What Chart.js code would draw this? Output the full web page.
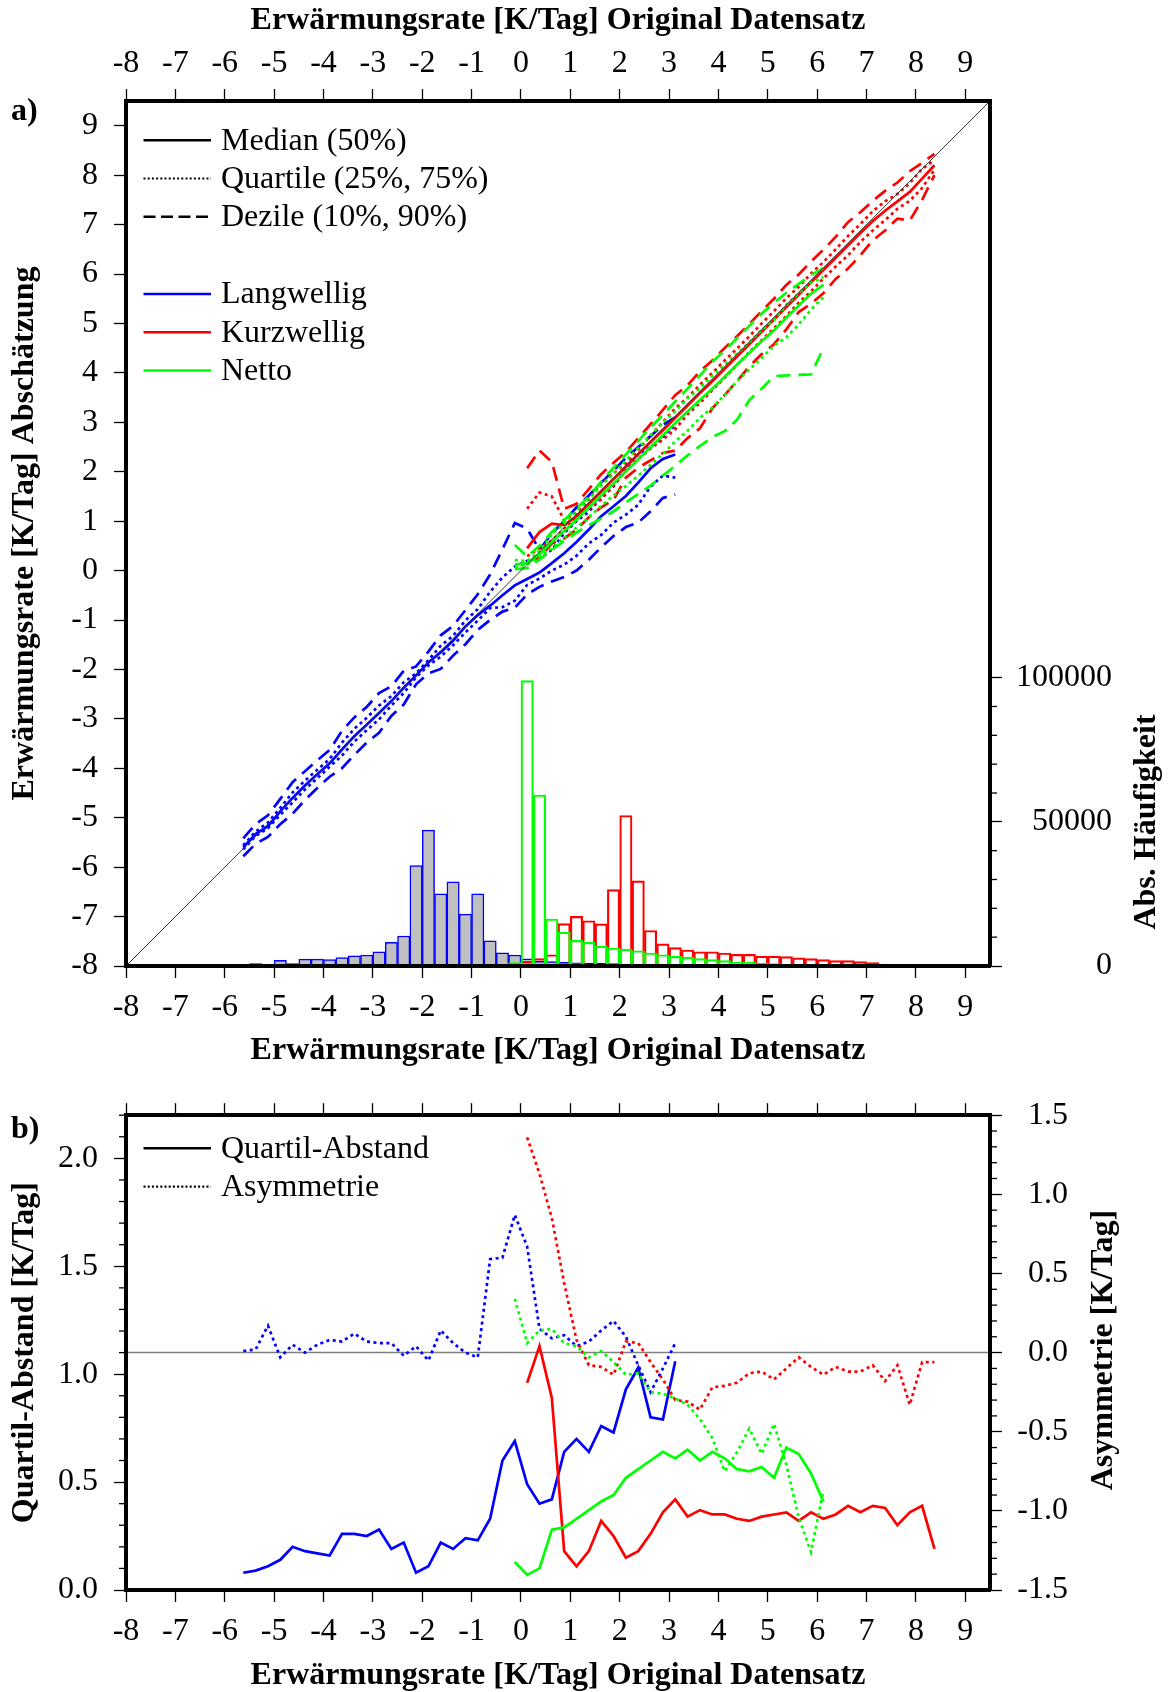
<!DOCTYPE html>
<html><head><meta charset="utf-8">
<script src="https://cdn.jsdelivr.net/npm/chart.js@4.4.0/dist/chart.umd.min.js"></script>
<style>
html,body{margin:0;padding:0;background:#fff;}
#wrap{position:relative;width:1168px;height:1692px;overflow:hidden;}
#cA{position:absolute;left:0;top:0;width:1168px;height:1080px;}
#cB{position:absolute;left:0;top:1080px;width:1168px;height:612px;}
</style></head><body>
<div id="wrap"><canvas id="cA" width="1168" height="1080"></canvas><canvas id="cB" width="1168" height="612"></canvas></div>
<script>
// ---------------- DATA ----------------
const xTicks = [-8,-7,-6,-5,-4,-3,-2,-1,0,1,2,3,4,5,6,7,8,9];

// bin centres (0.25 K/Tag bins)
const xBlue = [-5.625,-5.375,-5.125,-4.875,-4.625,-4.375,-4.125,-3.875,-3.625,-3.375,-3.125,-2.875,-2.625,-2.375,-2.125,-1.875,-1.625,-1.375,-1.125,-0.875,-0.625,-0.375,-0.125,0.125,0.375,0.625,0.875,1.125,1.375,1.625,1.875,2.125,2.375,2.625,2.875,3.125];
const xRed = [0.125,0.375,0.625,0.875,1.125,1.375,1.625,1.875,2.125,2.375,2.625,2.875,3.125,3.375,3.625,3.875,4.125,4.375,4.625,4.875,5.125,5.375,5.625,5.875,6.125,6.375,6.625,6.875,7.125,7.375,7.625,7.875,8.125,8.375];
const xGreen = [-0.125,0.125,0.375,0.625,0.875,1.125,1.375,1.625,1.875,2.125,2.375,2.625,2.875,3.125,3.375,3.625,3.875,4.125,4.375,4.625,4.875,5.125,5.375,5.625,5.875,6.125];

// Panel a: Langwellig (blue)
const blueMed = [-5.60,-5.33,-5.17,-4.87,-4.60,-4.35,-4.12,-3.90,-3.62,-3.35,-3.12,-2.88,-2.64,-2.37,-2.12,-1.86,-1.65,-1.42,-1.13,-0.90,-0.71,-0.50,-0.30,-0.17,-0.04,0.15,0.35,0.58,0.83,1.10,1.30,1.51,1.78,2.07,2.26,2.35];
const blueQ75 = [-5.56,-5.28,-5.10,-4.80,-4.49,-4.25,-4.03,-3.81,-3.48,-3.20,-2.98,-2.73,-2.54,-2.26,-2.08,-1.81,-1.52,-1.32,-1.01,-0.78,-0.43,-0.14,0.08,0.20,0.24,0.42,0.76,1.00,1.19,1.48,1.70,2.06,2.36,2.50,2.71,2.94];
const blueQ25 = [-5.64,-5.37,-5.21,-4.94,-4.69,-4.43,-4.20,-3.97,-3.74,-3.46,-3.23,-3.01,-2.73,-2.48,-2.16,-1.92,-1.74,-1.51,-1.25,-1.01,-0.76,-0.74,-0.61,-0.29,-0.16,0.00,0.12,0.30,0.55,0.72,0.97,1.13,1.33,1.70,1.92,1.88];
const blueQ90 = [-5.42,-5.13,-4.95,-4.62,-4.28,-4.06,-3.84,-3.63,-3.24,-2.97,-2.76,-2.48,-2.34,-2.03,-1.94,-1.64,-1.31,-1.12,-0.80,-0.48,-0.08,0.43,0.96,0.85,0.42,0.75,1.00,1.28,1.52,1.78,2.02,2.28,2.50,2.72,2.95,3.10];
const blueQ10 = [-5.78,-5.53,-5.39,-5.13,-4.92,-4.64,-4.40,-4.17,-4.00,-3.73,-3.48,-3.28,-2.94,-2.71,-2.30,-2.08,-1.99,-1.72,-1.49,-1.20,-1.00,-0.83,-0.75,-0.48,-0.33,-0.22,-0.13,0.00,0.22,0.47,0.70,0.88,0.97,1.20,1.47,1.54];

// Panel a: Kurzwellig (red)
const redMed = [0.45,0.78,0.95,0.92,1.10,1.35,1.60,1.85,2.10,2.35,2.60,2.84,3.09,3.34,3.59,3.83,4.08,4.33,4.58,4.83,5.08,5.33,5.58,5.83,6.08,6.33,6.58,6.83,7.07,7.28,7.47,7.66,7.93,8.20];
const redQ75 = [1.25,1.58,1.50,1.02,1.16,1.44,1.76,1.97,2.17,2.44,2.73,3.01,3.28,3.50,3.76,4.00,4.25,4.49,4.74,5.00,5.25,5.51,5.74,6.01,6.24,6.50,6.77,7.01,7.27,7.47,7.62,7.84,8.13,8.30];
const redQ25 = [0.29,0.45,0.61,0.84,1.05,1.26,1.44,1.72,2.02,2.26,2.47,2.65,2.86,3.16,3.39,3.65,3.90,4.16,4.42,4.66,4.90,5.15,5.42,5.65,5.91,6.15,6.38,6.65,6.88,7.09,7.32,7.48,7.74,8.11];
const redQ90 = [2.07,2.43,2.20,1.25,1.35,1.65,1.95,2.18,2.40,2.68,2.96,3.25,3.55,3.75,4.03,4.25,4.50,4.74,4.99,5.25,5.50,5.78,5.99,6.25,6.49,6.75,7.05,7.25,7.48,7.68,7.85,8.08,8.25,8.43];
const redQ10 = [0.19,0.26,0.55,0.65,0.83,1.08,1.28,1.43,1.88,2.08,2.23,2.38,2.43,2.68,2.88,3.28,3.55,3.83,4.13,4.38,4.58,4.88,5.23,5.40,5.61,5.90,6.11,6.38,6.68,6.88,7.12,7.08,7.50,8.00];

// Panel a: Netto (green)
const greenMed = [0.12,0.15,0.33,0.58,0.80,1.03,1.27,1.52,1.76,2.01,2.25,2.50,2.74,2.98,3.22,3.45,3.68,3.92,4.17,4.40,4.64,4.86,5.12,5.36,5.60,5.78];
const greenQ75 = [0.21,0.19,0.39,0.73,0.95,1.20,1.45,1.72,1.96,2.23,2.48,2.74,3.00,3.22,3.48,3.69,3.94,4.16,4.39,4.62,4.87,5.07,5.38,5.61,5.82,5.94];
const greenQ25 = [0.08,0.12,0.29,0.45,0.66,0.87,1.08,1.31,1.52,1.71,1.92,2.14,2.36,2.61,2.83,3.09,3.30,3.55,3.83,4.07,4.30,4.55,4.72,4.98,5.28,5.53];
const greenQ90 = [0.52,0.28,0.50,0.78,1.02,1.26,1.50,1.80,2.08,2.35,2.62,2.90,3.15,3.42,3.68,3.95,4.22,4.45,4.70,4.95,5.20,5.42,5.62,5.80,5.98,6.12];
const greenQ10 = [0.03,0.05,0.22,0.42,0.60,0.77,0.92,1.05,1.20,1.38,1.55,1.72,1.92,2.12,2.33,2.52,2.70,2.82,3.05,3.45,3.68,3.93,3.95,3.96,3.97,4.50];

// Panel a histograms (absolute frequency per 0.25 bin)
const histBlueX = xBlue;
const histBlue = [350,800,350,2000,800,2400,2400,2200,2900,3500,3800,4900,8200,10400,34800,47100,25000,29200,18000,25000,8700,4600,3800,2500,1600,1500,1300,1100,1000,900,800,700,500,400,300,100];
const histRedX = [0.125,0.375,0.625,0.875,1.125,1.375,1.625,1.875,2.125,2.375,2.625,2.875,3.125,3.375,3.625,3.875,4.125,4.375,4.625,4.875,5.125,5.375,5.625,5.875,6.125,6.375,6.625,6.875,7.125,7.375,7.625,7.875,8.125,8.375,8.625];
const histRed = [1600,2550,3900,14700,17200,15700,14600,26500,52200,29500,12300,7650,6350,5550,4950,4950,4500,4050,4050,3450,3450,3250,2800,2550,2200,1850,1850,1500,1150,700,350,230,230,120,120];
const histGreenX = [-0.375,-0.125,0.125,0.375,0.625,0.875,1.125,1.375,1.625,1.875,2.125,2.375,2.625,2.875,3.125,3.375,3.625,3.875,4.125,4.375,4.625,4.875,5.125,5.375,5.625,5.875,6.125,6.375,6.625,6.875,7.125];
const histGreen = [300,1150,99000,59300,16300,11700,8900,8200,6900,6250,5800,5300,4500,3900,3350,3100,2550,2200,1850,1400,1400,1050,800,600,450,350,230,150,100,80,50];

// Panel b: Quartil-Abstand (solid) and Asymmetrie (dotted)
const blueIQR = [0.08,0.09,0.11,0.14,0.20,0.18,0.17,0.16,0.26,0.26,0.25,0.28,0.19,0.22,0.08,0.11,0.22,0.19,0.24,0.23,0.33,0.60,0.69,0.49,0.40,0.42,0.64,0.70,0.64,0.76,0.73,0.93,1.03,0.80,0.79,1.06];
const blueAsym = [0.01,0.02,0.17,-0.03,0.05,0.00,0.05,0.08,0.07,0.12,0.07,0.06,0.06,-0.02,0.04,-0.05,0.14,0.06,0.00,-0.03,0.59,0.60,0.87,0.67,0.15,0.09,0.11,0.04,0.07,0.14,0.20,0.10,-0.08,-0.25,-0.10,0.06];
const redIQR = [0.96,1.13,0.89,0.18,0.11,0.18,0.32,0.25,0.15,0.18,0.26,0.36,0.42,0.34,0.37,0.35,0.35,0.33,0.32,0.34,0.35,0.36,0.32,0.36,0.33,0.35,0.39,0.36,0.39,0.38,0.30,0.36,0.39,0.19];
const redAsym = [1.36,1.13,0.85,0.44,0.08,-0.08,-0.09,-0.14,0.07,0.06,-0.06,-0.17,-0.30,-0.31,-0.36,-0.22,-0.21,-0.19,-0.13,-0.12,-0.17,-0.10,-0.03,-0.09,-0.14,-0.09,-0.12,-0.12,-0.08,-0.18,-0.08,-0.33,-0.06,-0.06];
const greenIQR = [0.13,0.07,0.10,0.28,0.29,0.33,0.37,0.41,0.44,0.52,0.56,0.60,0.64,0.61,0.65,0.60,0.64,0.61,0.56,0.55,0.57,0.52,0.66,0.63,0.54,0.41];
const greenAsym = [0.34,0.06,0.14,0.15,0.06,0.04,-0.03,0.01,-0.06,-0.14,-0.13,-0.25,-0.26,-0.29,-0.33,-0.42,-0.54,-0.75,-0.63,-0.48,-0.64,-0.45,-0.71,-1.04,-1.26,-0.87];

// reference lines
const diagX = [-8, 9.5];
const zeroX = [-8, 9.5];

// ---------------- STYLE / HELPERS ----------------
Chart.defaults.font.family = '"Liberation Serif","Times New Roman",serif';
Chart.defaults.font.size = 32;
Chart.defaults.color = '#000';

const BLUE = '#0000ff', RED = '#ff0000', GREEN = '#00ff00';
const SOLID = [], DOT = [3, 3.5], DASH = [14, 8];
const SERIF = '"Liberation Serif","Times New Roman",serif';

function lineDs(xs, ys, color, dash, yAxisID, order, width) {
  return { type: 'line', data: xs.map((x, i) => ({ x: x, y: ys[i] })), borderColor: color,
    borderWidth: width || 2.7, borderDash: dash, pointRadius: 0, pointHoverRadius: 0, fill: false,
    tension: 0, xAxisID: 'x', yAxisID: yAxisID, order: order, borderCapStyle: 'butt' };
}
function barDs(xs, counts, border, fill, order) {
  return { type: 'bar', data: xs.map((x, i) => ({ x: x, y: counts[i] })), borderColor: border,
    backgroundColor: fill, borderWidth: 1.5, borderSkipped: 'start', barPercentage: 1,
    categoryPercentage: 1, grouped: false, xAxisID: 'x', yAxisID: 'y2', order: order };
}
const gridOpt = { drawOnChartArea: false, drawTicks: true, tickLength: 12, tickWidth: 1.3, tickColor: '#000', offset: false };
const borderOpt = { display: true, width: 4, color: '#000', z: 1 };
const xTitle = 'Erwärmungsrate [K/Tag] Original Datensatz';

function xScale(pos, h, showLabels, titleOn, titlePad, labelPad) {
  return { type: 'linear', axis: 'x', position: pos, min: xTicks[0], max: 9.5, offset: false,
    grid: gridOpt, border: borderOpt,
    ticks: { display: showLabels, stepSize: 1, includeBounds: false, autoSkip: false, maxRotation: 0, minRotation: 0,
      padding: labelPad, callback: v => String(v) },
    title: { display: titleOn, text: xTitle, font: { size: 32, weight: 'bold' }, padding: titlePad },
    afterFit: s => { s.height = h; } };
}

// plugin for minor ticks, legend and free labels
const decor = {
  id: 'decor',
  afterDraw(chart, args, o) {
    const ctx = chart.ctx, ca = chart.chartArea;
    ctx.save();
    (o.minor || []).forEach(m => {
      const sc = chart.scales[m.scale];
      const n = Math.round((m.to - m.from) / m.step);
      ctx.strokeStyle = '#000'; ctx.lineWidth = 1.3; ctx.setLineDash([]);
      for (let i = 0; i <= n; i++) {
        const v = m.from + i * m.step;
        const r = v / m.major;
        if (Math.abs(r - Math.round(r)) < 1e-6) continue;
        const p = sc.getPixelForValue(v);
        ctx.beginPath();
        if (m.side === 'right') { ctx.moveTo(ca.right + 2, p); ctx.lineTo(ca.right + 7, p); }
        else { ctx.moveTo(ca.left - 2, p); ctx.lineTo(ca.left - 7, p); }
        ctx.stroke();
      }
    });
    (o.legend || []).forEach(l => {
      ctx.strokeStyle = l.color; ctx.lineWidth = l.width; ctx.setLineDash(l.dash);
      ctx.beginPath(); ctx.moveTo(o.legendX1, l.y); ctx.lineTo(o.legendX2, l.y); ctx.stroke();
      ctx.setLineDash([]);
      ctx.fillStyle = '#000'; ctx.font = '32px ' + SERIF; ctx.textAlign = 'left'; ctx.textBaseline = 'middle';
      ctx.fillText(l.text, o.legendTextX, l.y + 1);
    });
    (o.texts || []).forEach(t => {
      ctx.save();
      ctx.translate(t.x, t.y);
      if (t.rot) ctx.rotate(t.rot);
      ctx.fillStyle = '#000'; ctx.font = (t.bold ? 'bold ' : '') + '32px ' + SERIF;
      ctx.textAlign = t.align || 'center'; ctx.textBaseline = 'middle';
      ctx.fillText(t.text, 0, 0);
      ctx.restore();
    });
    ctx.restore();
  }
};

// ---------------- CHART A ----------------
const dsA = [
  lineDs(diagX, diagX, '#333333', SOLID, 'y', 0, 1),
  lineDs(xGreen, greenMed, GREEN, SOLID, 'y', 10),
  lineDs(xGreen, greenQ75, GREEN, DOT, 'y', 11),
  lineDs(xGreen, greenQ25, GREEN, DOT, 'y', 11),
  lineDs(xGreen, greenQ90, GREEN, DASH, 'y', 12),
  lineDs(xGreen, greenQ10, GREEN, DASH, 'y', 12),
  lineDs(xRed, redMed, RED, SOLID, 'y', 20),
  lineDs(xRed, redQ75, RED, DOT, 'y', 21),
  lineDs(xRed, redQ25, RED, DOT, 'y', 21),
  lineDs(xRed, redQ90, RED, DASH, 'y', 22),
  lineDs(xRed, redQ10, RED, DASH, 'y', 22),
  lineDs(xBlue, blueMed, BLUE, SOLID, 'y', 30),
  lineDs(xBlue, blueQ75, BLUE, DOT, 'y', 31),
  lineDs(xBlue, blueQ25, BLUE, DOT, 'y', 31),
  lineDs(xBlue, blueQ90, BLUE, DASH, 'y', 32),
  lineDs(xBlue, blueQ10, BLUE, DASH, 'y', 32),
  barDs(histGreenX, histGreen, GREEN, 'rgba(0,0,0,0)', 100),
  barDs(histRedX, histRed, RED, 'rgba(0,0,0,0)', 101),
  barDs(histBlueX, histBlue, BLUE, '#c0c0c0', 102)
];

new Chart(document.getElementById('cA'), {
  type: 'line',
  data: { datasets: dsA },
  plugins: [decor],
  options: {
    responsive: false, animation: false, devicePixelRatio: 1, events: [],
    layout: { padding: { left: 0, right: 56, top: 0, bottom: 0 } },
    scales: {
      x: xScale('bottom', 114, true, true, { top: 0, bottom: 10 }, 10),
      x2: xScale('top', 101, true, true, { top: 2, bottom: 0 }, 6),
      y: { type: 'linear', position: 'left', min: -8, max: 9.5, grid: gridOpt, border: borderOpt,
        ticks: { stepSize: 1, includeBounds: false, autoSkip: false, padding: 16, callback: v => String(v) },
        title: { display: true, text: 'Erwärmungsrate [K/Tag] Abschätzung', font: { size: 32, weight: 'bold' }, padding: { top: 6, bottom: 0 } },
        afterFit: s => { s.width = 126; } },
      y2: { type: 'linear', position: 'right', min: 0, max: 300000, grid: gridOpt, border: borderOpt,
        ticks: { stepSize: 50000, includeBounds: false, autoSkip: false, crossAlign: 'far', padding: 12, callback: v => String(v) },
        afterBuildTicks: s => { s.ticks = s.ticks.filter(t => t.value <= 100000); },
        afterFit: s => { s.width = 122; } }
    },
    plugins: {
      legend: { display: false }, tooltip: { enabled: false },
      decor: {
        minor: [{ scale: 'y2', from: 0, to: 100000, step: 10000, major: 50000, side: 'right' }],
        legendX1: 143.5, legendX2: 211, legendTextX: 221,
        legend: [
          { y: 140.3, color: '#000', width: 2.5, dash: [], text: 'Median (50%)' },
          { y: 178.5, color: '#000', width: 2.2, dash: [2, 2.2], text: 'Quartile (25%, 75%)' },
          { y: 216.7, color: '#000', width: 2.5, dash: [12, 5.5], text: 'Dezile (10%, 90%)' },
          { y: 294, color: BLUE, width: 2.5, dash: [], text: 'Langwellig' },
          { y: 332.3, color: RED, width: 2.5, dash: [], text: 'Kurzwellig' },
          { y: 370.5, color: GREEN, width: 2.5, dash: [], text: 'Netto' }
        ],
        texts: [
          { x: 11, y: 112, text: 'a)', bold: true, align: 'left' },
          { x: 1147, y: 822, text: 'Abs. Häufigkeit', bold: true, rot: -Math.PI / 2 }
        ]
      }
    }
  }
});

// ---------------- CHART B ----------------
const dsB = [
  lineDs(zeroX, [0, 0], '#808080', SOLID, 'y2', 50, 1.5),
  lineDs(xGreen, greenIQR, GREEN, SOLID, 'y', 10),
  lineDs(xGreen, greenAsym, GREEN, DOT, 'y2', 11),
  lineDs(xRed, redIQR, RED, SOLID, 'y', 20),
  lineDs(xRed, redAsym, RED, DOT, 'y2', 21),
  lineDs(xBlue, blueIQR, BLUE, SOLID, 'y', 30),
  lineDs(xBlue, blueAsym, BLUE, DOT, 'y2', 31)
];

new Chart(document.getElementById('cB'), {
  type: 'line',
  data: { datasets: dsB },
  plugins: [decor],
  options: {
    responsive: false, animation: false, devicePixelRatio: 1, events: [],
    layout: { padding: { left: 0, right: 100, top: 0, bottom: 0 } },
    scales: {
      x: xScale('bottom', 102, true, true, { top: 0, bottom: -3 }, 10),
      x2: xScale('top', 30, false, false, { top: 0, bottom: 0 }, 6),
      y: { type: 'linear', position: 'left', min: 0, max: 2.2, grid: gridOpt, border: borderOpt,
        ticks: { stepSize: 0.5, includeBounds: false, autoSkip: false, padding: 16, callback: v => v.toFixed(1) },
        title: { display: true, text: 'Quartil-Abstand [K/Tag]', font: { size: 32, weight: 'bold' }, padding: { top: 6, bottom: 0 } },
        afterFit: s => { s.width = 126; } },
      y2: { type: 'linear', position: 'right', min: -1.5, max: 1.5, grid: gridOpt, border: borderOpt,
        ticks: { stepSize: 0.5, includeBounds: false, autoSkip: false, crossAlign: 'far', padding: 12, callback: v => v.toFixed(1) },
        afterFit: s => { s.width = 78; } }
    },
    plugins: {
      legend: { display: false }, tooltip: { enabled: false },
      decor: {
        minor: [
          { scale: 'y', from: 0, to: 2.2, step: 0.1, major: 0.5, side: 'left' },
          { scale: 'y2', from: -1.5, to: 1.5, step: 0.1, major: 0.5, side: 'right' }
        ],
        legendX1: 143.5, legendX2: 211, legendTextX: 221,
        legend: [
          { y: 68.3, color: '#000', width: 2.5, dash: [], text: 'Quartil-Abstand' },
          { y: 106.7, color: '#000', width: 2.2, dash: [2, 2.2], text: 'Asymmetrie' }
        ],
        texts: [
          { x: 11, y: 50, text: 'b)', bold: true, align: 'left' },
          { x: 1104, y: 270, text: 'Asymmetrie [K/Tag]', bold: true, rot: -Math.PI / 2 }
        ]
      }
    }
  }
});
</script>
</body></html>
